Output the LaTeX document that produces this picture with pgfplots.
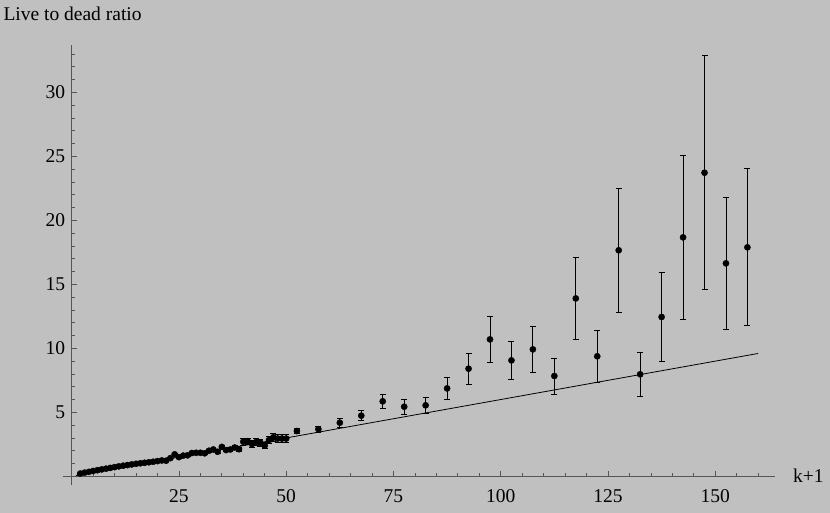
\documentclass[border=0pt]{standalone}
\usepackage{pgfplots}
\pgfplotsset{compat=1.18}
\usepackage{fontspec}
\setmainfont{Liberation Serif}
\definecolor{bgc}{RGB}{192,192,192}
\definecolor{axc}{RGB}{85,85,85}
\begin{document}
\begin{tikzpicture}
\fill[bgc] (0,0) rectangle (830pt,513pt);
\begin{axis}[
  scale only axis,
  width=712.2pt, height=440.3pt,
  at={(63.1pt,27.7pt)}, anchor=south west,
  xmin=-2, xmax=164, ymin=-0.7, ymax=33.7,
  axis lines=middle,
  axis line style={-, draw=axc, line width=0.8pt},
  xtick={25,50,75,100,125,150},
  ytick={5,10,15,20,25,30},
  minor xtick={5,10,...,160},
  minor ytick={1,2,...,33},
  tick align=inside,
  major tick length=5pt, minor tick length=3pt,
  every tick/.style={draw=axc, line width=0.7pt},
  /pgf/number format/assume math mode=true,
  tick label style={font=\fontsize{19.5}{22}\selectfont},
  xticklabel style={yshift=-10pt},
  yticklabel style={xshift=-3pt},
  clip=false,
]
\addplot[black, line width=0.8pt] coordinates {(1,0.06) (160,9.6)};
\addplot[only marks, mark=*, mark size=3.1pt, black,
  error bars/.cd, y dir=both, y explicit,
  error bar style={line width=0.8pt, black},
  error mark options={black, mark size=3pt, line width=0.8pt, rotate=90}]
  table[x=x, y=y, y error=e] {
x y e
2 0.22 0.04
3 0.29 0.04
4 0.35 0.04
5 0.42 0.04
6 0.48 0.04
7 0.54 0.04
8 0.60 0.04
9 0.66 0.04
10 0.72 0.05
11 0.78 0.05
12 0.83 0.05
13 0.88 0.05
14 0.93 0.05
15 0.98 0.05
16 1.02 0.05
17 1.06 0.05
18 1.10 0.06
19 1.14 0.06
20 1.19 0.06
21 1.24 0.08
22 1.22 0.08
23 1.42 0.08
24 1.72 0.09
25 1.50 0.09
26 1.62 0.09
27 1.64 0.10
28 1.82 0.10
29 1.84 0.10
30 1.84 0.10
31 1.80 0.12
32 2.00 0.12
33 2.10 0.12
34 1.92 0.13
35 2.30 0.13
36 2.05 0.14
37 2.10 0.14
38 2.25 0.15
39 2.12 0.15
40 2.70 0.25
41 2.75 0.25
42 2.52 0.25
43 2.68 0.25
44 2.62 0.25
45 2.40 0.25
46 2.84 0.28
47 3.05 0.30
48 2.95 0.30
49 2.95 0.30
50 2.95 0.30
52.5 3.54 0.22
57.5 3.69 0.24
62.5 4.19 0.33
67.5 4.74 0.39
72.5 5.86 0.56
77.5 5.44 0.60
82.5 5.55 0.60
87.5 6.87 0.86
92.5 8.41 1.19
97.5 10.70 1.78
102.5 9.06 1.48
107.5 9.92 1.78
112.5 7.84 1.40
117.5 13.90 3.22
122.5 9.38 2.01
127.5 17.66 4.84
132.5 7.97 1.71
137.5 12.45 3.45
142.5 18.67 6.40
147.5 23.72 9.14
152.5 16.64 5.16
157.5 17.89 6.13
};
\end{axis}
\node[anchor=base west, inner sep=0, font=\fontsize{19.5}{22}\selectfont] at (3.3pt,492pt) {Live to dead ratio};
\node[anchor=base west, inner sep=0, font=\fontsize{19.5}{22}\selectfont] at (793pt,30pt) {k+1};
\pgfresetboundingbox
\path (0,0) rectangle (830pt,513pt);
\end{tikzpicture}
\end{document}
